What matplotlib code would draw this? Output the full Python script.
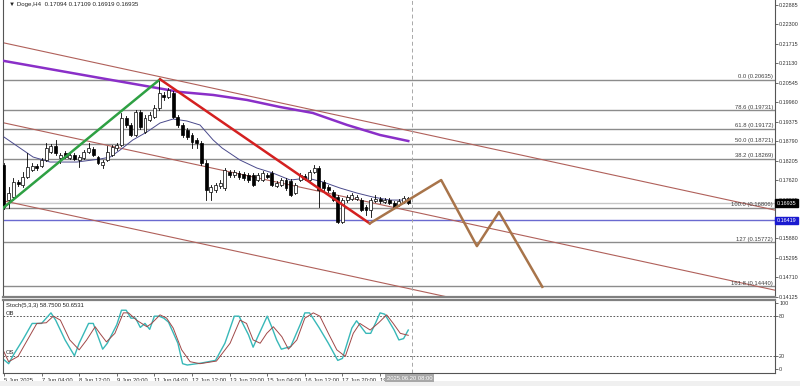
import matplotlib.pyplot as plt
from matplotlib.patches import Rectangle

plt.rcParams['font.family'] = ['Liberation Sans', 'DejaVu Sans']

# velas H4 de Doge (apertura, maximo, minimo, cierre)
aperturas = [0.1808, 0.1703, 0.1712, 0.1757, 0.1748, 0.1772, 0.1793, 0.1805, 0.1805, 0.1823,
             0.1847, 0.1865, 0.1829, 0.1844, 0.1829, 0.1838, 0.1823, 0.1829, 0.1847, 0.1856,
             0.1832, 0.1808, 0.1823, 0.1838, 0.1859, 0.1868, 0.1949, 0.1928, 0.1898, 0.1967,
             0.1907, 0.1943, 0.1952, 0.1979, 0.2018, 0.2012, 0.2024, 0.1952, 0.1928, 0.1913,
             0.1898, 0.1883, 0.1874, 0.1814, 0.1727, 0.1733, 0.1745, 0.1739, 0.1787, 0.1778,
             0.1784, 0.1781, 0.1778, 0.1778, 0.1763, 0.1763, 0.1778, 0.1784, 0.1745, 0.1748,
             0.1763, 0.1760, 0.1724, 0.1763, 0.1775, 0.1763, 0.1787, 0.1799, 0.1757, 0.1742,
             0.1727, 0.1712, 0.1637, 0.1703, 0.1706, 0.1706, 0.1703, 0.1682, 0.1673, 0.1700,
             0.1706, 0.1697, 0.1703, 0.1694, 0.1688, 0.1697, 0.17094]
maximos = [0.1814, 0.1742, 0.1769, 0.1763, 0.1787, 0.1844, 0.1814, 0.1811, 0.1829, 0.1874,
           0.1871, 0.1883, 0.1844, 0.1850, 0.1847, 0.1844, 0.1838, 0.1853, 0.1874, 0.1862,
           0.1835, 0.1823, 0.1865, 0.1868, 0.1874, 0.1964, 0.1955, 0.1934, 0.1973, 0.1973,
           0.1958, 0.1967, 0.1988, 0.2063, 0.2027, 0.2039, 0.2030, 0.1958, 0.1934, 0.1919,
           0.1904, 0.1889, 0.1880, 0.1823, 0.1748, 0.1754, 0.1763, 0.1799, 0.1793, 0.1793,
           0.1790, 0.1787, 0.1784, 0.1784, 0.1784, 0.1790, 0.1784, 0.1790, 0.1760, 0.1769,
           0.1769, 0.1766, 0.1754, 0.1784, 0.1781, 0.1793, 0.1808, 0.1805, 0.1763, 0.1748,
           0.1733, 0.1718, 0.1709, 0.1718, 0.1724, 0.1718, 0.1709, 0.1688, 0.1709, 0.1718,
           0.1712, 0.1709, 0.1709, 0.1700, 0.1706, 0.1715, 0.17109]
minimos = [0.1676, 0.1679, 0.1703, 0.1745, 0.1742, 0.1769, 0.1790, 0.1793, 0.1802, 0.1820,
           0.1844, 0.1838, 0.1814, 0.1829, 0.1826, 0.1823, 0.1802, 0.1826, 0.1844, 0.1835,
           0.1811, 0.1799, 0.1820, 0.1835, 0.1853, 0.1865, 0.1922, 0.1895, 0.1895, 0.1916,
           0.1904, 0.1940, 0.1949, 0.1973, 0.2003, 0.2009, 0.1949, 0.1922, 0.1892, 0.1886,
           0.1859, 0.1859, 0.1808, 0.1703, 0.1703, 0.1727, 0.1739, 0.1733, 0.1772, 0.1772,
           0.1766, 0.1763, 0.1757, 0.1745, 0.1760, 0.1760, 0.1769, 0.1745, 0.1742, 0.1745,
           0.1733, 0.1715, 0.1721, 0.1760, 0.1763, 0.1760, 0.1784, 0.1682, 0.1733, 0.1727,
           0.1700, 0.1634, 0.1634, 0.1697, 0.1703, 0.1703, 0.1670, 0.1658, 0.1652, 0.1697,
           0.1694, 0.1694, 0.1691, 0.1679, 0.1685, 0.1694, 0.16919]
cierres = [0.1682, 0.1724, 0.1757, 0.1751, 0.1772, 0.1802, 0.1805, 0.1799, 0.1823, 0.1859,
           0.1865, 0.1844, 0.1838, 0.1832, 0.1838, 0.1826, 0.1832, 0.1847, 0.1859, 0.1838,
           0.1814, 0.1817, 0.1847, 0.1862, 0.1868, 0.1949, 0.1928, 0.1898, 0.1967, 0.1922,
           0.1949, 0.1958, 0.1979, 0.2024, 0.2012, 0.2033, 0.1952, 0.1928, 0.1898, 0.1892,
           0.1877, 0.1874, 0.1814, 0.1733, 0.1742, 0.1748, 0.1754, 0.1793, 0.1778, 0.1787,
           0.1772, 0.1769, 0.1763, 0.1748, 0.1778, 0.1784, 0.1772, 0.1748, 0.1754, 0.1763,
           0.1739, 0.1718, 0.1748, 0.1778, 0.1766, 0.1787, 0.1799, 0.1733, 0.1739, 0.1733,
           0.1703, 0.1637, 0.1703, 0.1712, 0.1718, 0.1712, 0.1673, 0.1673, 0.1703, 0.1706,
           0.1700, 0.1703, 0.1694, 0.1682, 0.1700, 0.1709, 0.16935]

# medias moviles (barra, precio)
ma_larga_x = [0, 20.4, 37.4, 44.5, 51.7, 58.7, 65.7, 73.0, 80.0, 86]
ma_larga_y = [0.2120, 0.2069, 0.2027, 0.2018, 0.2003, 0.1982, 0.1964, 0.1928, 0.1898, 0.1880]
ma_corta_x = [0, 6.2, 9.8, 15.5, 20.4, 22.6, 24.7, 27.4, 30.4, 33.2, 36.0, 38.9, 41.7, 44.5,
              46.4, 50.2, 53.8, 57.2, 60.9, 64.5, 67.9, 71.5, 75.1, 78.5, 82.1, 86]
ma_corta_y = [0.1892, 0.1832, 0.1817, 0.1817, 0.1826, 0.1832, 0.1853, 0.1883, 0.1907, 0.1934,
              0.1946, 0.1940, 0.1928, 0.1883, 0.1859, 0.1823, 0.1799, 0.1784, 0.1763, 0.1769,
              0.1757, 0.1739, 0.1724, 0.1712, 0.1703, 0.1703]

# canal descendente (barra inicio, precio inicio, barra fin, precio fin)
canal = [(0, 0.21740, 164, 0.16729),
         (0, 0.19343, 164, 0.14329),
         (0, 0.17005, 164, 0.12000)]

# ondas dibujadas
onda_verde_x = [-0.2, 33.2]
onda_verde_y = [0.1679, 0.2065]
onda_roja_x = [33.2, 77.8]
onda_roja_y = [0.2065, 0.1633]
proyeccion_x = [77.8, 93.0, 100.6, 105.3, 114.5]
proyeccion_y = [0.1633, 0.1763, 0.1565, 0.1667, 0.1443]

# niveles fibonacci (etiqueta, precio)
fibo_etiquetas = ['0.0 (0.20635)', '78.6 (0.19731)', '61.8 (0.19172)', '50.0 (0.18721)',
                  '38.2 (0.18269)', '100.0 (0.16806)', '127 (0.15772)', '161.8 (0.14440)']
fibo_precios = [0.20635, 0.19731, 0.19172, 0.18721, 0.18269, 0.16806, 0.15772, 0.14440]
linea_azul = 0.16419
precio_actual = 0.16935

precios_eje = [0.22885, 0.22300, 0.21715, 0.21130, 0.20545, 0.19960, 0.19375, 0.18790,
               0.18205, 0.17620, 0.17035, 0.16465, 0.15880, 0.15295, 0.14710, 0.14125]

# estocastico (barra, valor)
stoch_main_x = [0, 1, 2, 4, 6, 8, 10, 11, 13, 15, 16, 18, 19, 21, 22, 24, 25, 26, 27, 28, 29, 30,
                31, 32, 33, 34, 35, 37, 38, 39, 42, 45, 47, 49, 50, 52, 53, 54, 56, 57, 58, 59,
                61, 63, 64, 65, 67, 69, 71, 72, 74, 75, 77, 78, 79, 80, 81, 83, 84, 85, 86]
stoch_main = [14, 8, 21, 44, 69, 69, 85, 74, 44, 20, 39, 69, 69, 30, 39, 67, 89, 89, 77, 77, 63, 69,
              60, 80, 80, 77, 71, 39, 8, 6, 9, 13, 39, 80, 80, 52, 33, 49, 80, 63, 44, 30,
              34, 67, 85, 85, 63, 39, 13, 16, 62, 73, 54, 54, 69, 85, 83, 59, 44, 46, 59]
stoch_senal_x = [0, 1, 3, 5, 7, 9, 10.5, 12, 14, 16, 17.6, 19.4, 20.4, 21.8, 23.6, 25.4, 26.5,
                 28.2, 30.4, 31.4, 33.2, 34.6, 36, 37.8, 39.6, 41.7, 45.2, 48.1, 50.2, 51.6, 53,
                 54.5, 55.9, 57.3, 59.1, 60.5, 62.3, 64, 65.8, 67.2, 69, 70.8, 72.6, 74.3, 75.7,
                 77.9, 79.7, 81.4, 82.8, 84.3, 86]
stoch_senal = [26, 11, 19, 44, 69, 70, 80, 74, 44, 29, 44, 64, 54, 41, 54, 85, 85,
               74, 64, 69, 82, 77, 62, 29, 11, 8, 12, 39, 74, 69, 44,
               39, 54, 64, 49, 30, 44, 77, 85, 80, 54, 29, 19, 54, 69,
               59, 70, 82, 69, 54, 51]

barras_fecha = [0, 8, 16, 24, 32, 40, 48, 56, 64, 72, 80]
etiquetas_fecha = ['5 Jun 2025', '7 Jun 04:00', '8 Jun 12:00', '9 Jun 20:00', '11 Jun 04:00',
                   '12 Jun 12:00', '13 Jun 20:00', '15 Jun 04:00', '16 Jun 12:00',
                   '17 Jun 20:00', '19 Jun 04:00']

fig = plt.figure(figsize=(8, 3.86), dpi=100)
ax = fig.add_axes([3/800, 1 - 297/386, 772/800, 297/386])
ax2 = fig.add_axes([3/800, 13/386, 772/800, 73/386])
fig.patches.append(Rectangle((0, 0), 1, 5/386, transform=fig.transFigure,
                             facecolor='#f0f0f0', edgecolor='none'))

x_min, x_max = -0.2, 164

# lineas horizontales de fibonacci
for p in fibo_precios:
    ax.axhline(p, color='#8c8c8c', lw=1.0, zorder=1)
for et, p in zip(fibo_etiquetas, fibo_precios):
    ax.text(163.6, p + 0.00012, et, ha='right', va='bottom', fontsize=4.2, color='#404040', zorder=6)
ax.axhline(precio_actual, color='#c8c8c8', lw=1.0, zorder=1)
ax.axhline(linea_azul, color='#6a6ad0', lw=1.0, zorder=1)

# canal
for x0, y0, x1, y1 in canal:
    ax.plot([x0, x1], [y0, y1], color='#b0605a', lw=0.8, zorder=2)

ax.plot(ma_larga_x, ma_larga_y, color='#8a2fc8', lw=1.8, zorder=3)
ax.plot(ma_corta_x, ma_corta_y, color='#4a4a8c', lw=0.7, zorder=3)

# velas
for i in range(len(aperturas)):
    o, h, l, c = aperturas[i], maximos[i], minimos[i], cierres[i]
    ax.plot([i, i], [l, h], color='black', lw=0.6, zorder=4)
    alto = max(abs(c - o), 0.00008)
    color = 'white' if c >= o else 'black'
    ax.bar(i, alto, bottom=min(o, c), width=0.62, facecolor=color, edgecolor='black', lw=0.5, zorder=5)

ax.plot(onda_verde_x, onda_verde_y, color='#2ea043', lw=1.8, zorder=6)
ax.plot(onda_roja_x, onda_roja_y, color='#d42020', lw=1.8, zorder=6)
ax.plot(proyeccion_x, proyeccion_y, color='#a8744a', lw=1.8, zorder=6)

ax.axvline(86.8, color='#a8a8a8', lw=0.7, ls=(0, (4, 3)), zorder=2)

ax.set_xlim(x_min, x_max)
ax.set_ylim(0.14125, 0.23026)
ax.set_xticks([])
ax.yaxis.tick_right()
ax.set_yticks(precios_eje)
ax.set_yticklabels([f'{p:.5f}' for p in precios_eje])
ax.tick_params(axis='y', labelsize=3.9, length=2, width=0.5, pad=1, colors='#333333')
for s in ['left', 'right', 'bottom']:
    ax.spines[s].set_color('#555555')
    ax.spines[s].set_linewidth(0.8)
ax.spines['bottom'].set_linewidth(1.6)
ax.spines['bottom'].set_color('#808080')
ax.spines['top'].set_visible(False)

# cajas de precio en el eje
trans = ax.get_yaxis_transform()
ax.text(1.002, precio_actual, '0.16935', transform=trans, ha='left', va='center', fontsize=3.9,
        color='white', zorder=10, clip_on=False,
        bbox=dict(boxstyle='square,pad=0.25', facecolor='black', edgecolor='black'))
ax.text(1.002, linea_azul, '0.16419', transform=trans, ha='left', va='center', fontsize=3.9,
        color='white', zorder=10, clip_on=False,
        bbox=dict(boxstyle='square,pad=0.25', facecolor='#1a1ad0', edgecolor='#1a1ad0'))

ax.text(0.008, 0.992, '\u25bc Doge,H4  0.17094 0.17109 0.16919 0.16935', transform=ax.transAxes,
        ha='left', va='top', fontsize=4.4, color='#222222')

# estocastico
ax2.axhline(80, color='#404040', lw=0.6, ls=(0, (2, 2)))
ax2.axhline(20, color='#404040', lw=0.6, ls=(0, (2, 2)))
ax2.plot(stoch_main_x, stoch_main, color='#38b8b8', lw=1.0)
ax2.plot(stoch_senal_x, stoch_senal, color='#a04848', lw=0.7)
ax2.axvline(86.8, color='#a8a8a8', lw=0.7, ls=(0, (4, 3)))
ax2.set_xlim(x_min, x_max)
ax2.set_ylim(-6.1, 104.5)
ax2.yaxis.tick_right()
ax2.set_yticks([100, 80, 20, 0])
ax2.tick_params(axis='y', labelsize=3.9, length=2, width=0.5, pad=1, colors='#333333')
ax2.set_xticks(barras_fecha)
ax2.set_xticklabels(etiquetas_fecha, ha='left')
ax2.tick_params(axis='x', labelsize=4.2, length=2, width=0.5, pad=1.5, colors='#333333')
for s in ['left', 'right', 'bottom']:
    ax2.spines[s].set_color('#555555')
    ax2.spines[s].set_linewidth(0.8)
ax2.spines['top'].set_color('#808080')
ax2.spines['top'].set_linewidth(1.6)
ax2.text(0.004, 0.96, 'Stoch(5,3,3) 58.7500 50.6531', transform=ax2.transAxes, ha='left', va='top',
         fontsize=4.2, color='#222222')
ax2.text(0.004, 80.5, 'OB', transform=ax2.get_yaxis_transform(), ha='left', va='bottom',
         fontsize=4.2, color='#222222')
ax2.text(0.004, 20.5, 'OS', transform=ax2.get_yaxis_transform(), ha='left', va='bottom',
         fontsize=4.2, color='#222222')

fig.text(410/800, 1 - 378/386, '2025.06.20 08:00', ha='center', va='center', fontsize=4.2,
         color='white', bbox=dict(boxstyle='square,pad=0.3', facecolor='#a8a8a8', edgecolor='none'))

fig.savefig('out.png', dpi=100)
